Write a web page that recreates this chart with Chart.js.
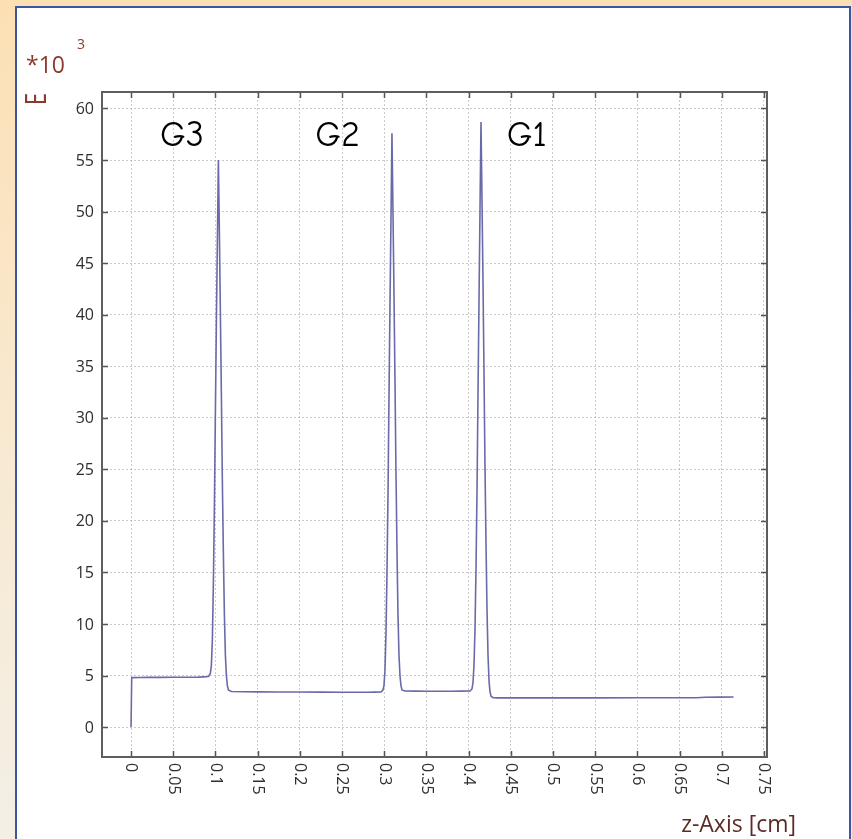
<!DOCTYPE html>
<html>
<head>
<meta charset="utf-8">
<script src="https://cdn.jsdelivr.net/npm/chart.js@4.4.1/dist/chart.umd.min.js"></script>
<style>
  html, body { margin: 0; padding: 0; }
  body {
    width: 852px; height: 839px; overflow: hidden; position: relative;
    background: linear-gradient(to bottom, #fce0b4 0%, #f8e9d0 50%, #f3efe6 100%);
  }
  #panel {
    position: absolute; left: 15px; top: 6px; width: 836px; height: 900px;
    box-sizing: border-box; border: 2px solid #3a56a0; background: #ffffff;
  }
  #c { position: absolute; left: 0; top: 0; }
</style>
</head>
<body>
<div id="panel"></div>
<canvas id="c" width="852" height="839"></canvas>
<script>
// ---- data (z in cm, E in units of 10^3) ----
const zPos = [
  0, 0.0008, 0.02, 0.05, 0.08, 0.0917,
  0.0940, 0.0952, 0.0964, 0.0976, 0.0988, 0.0999, 0.1011, 0.1023, 0.1035,
  0.1047, 0.1059, 0.1071, 0.1082, 0.1094, 0.1106, 0.1118, 0.1130, 0.1142, 0.1154, 0.1189,
  0.15, 0.20, 0.25, 0.28, 0.2962,
  0.2985, 0.2997, 0.3009, 0.3021, 0.3033, 0.3045, 0.3056, 0.3068, 0.3080, 0.3092,
  0.3104, 0.3116, 0.3128, 0.3139, 0.3151, 0.3163, 0.3175, 0.3187, 0.3199, 0.3211, 0.3246,
  0.35, 0.38, 0.4017,
  0.4040, 0.4052, 0.4064, 0.4076, 0.4088, 0.4100, 0.4111, 0.4123, 0.4135, 0.4147,
  0.4159, 0.4171, 0.4183, 0.4194, 0.4206, 0.4218, 0.4230, 0.4242, 0.4254, 0.4266, 0.4289, 0.4337,
  0.50, 0.60, 0.67, 0.68, 0.714
];
const eField = [
  0, 4.8, 4.82, 4.83, 4.85, 4.9,
  5.2, 6.0, 8.5, 14, 21.5, 30, 39, 47, 55.0,
  48, 40, 32, 24, 17, 11, 7, 5, 4, 3.6, 3.45,
  3.42, 3.40, 3.38, 3.38, 3.4,
  3.6, 4.0, 5.5, 9, 15, 22.5, 31.5, 40.5, 49, 57.6,
  50, 42, 33.5, 25, 17.5, 11, 7, 5, 4, 3.6, 3.5,
  3.48, 3.48, 3.5,
  3.7, 4.3, 6, 9.5, 15.5, 23, 32, 41, 50, 58.7,
  51, 43, 34, 25.5, 18, 11.5, 7, 4.5, 3.4, 3.0, 2.85, 2.83,
  2.83, 2.84, 2.84, 2.9, 2.92
];
const xTicks = [0, 0.05, 0.1, 0.15, 0.2, 0.25, 0.3, 0.35, 0.4, 0.45, 0.5, 0.55, 0.6, 0.65, 0.7, 0.75];
const xTickLabels = ['0', '0.05', '0.1', '0.15', '0.2', '0.25', '0.3', '0.35', '0.4', '0.45', '0.5', '0.55', '0.6', '0.65', '0.7', '0.75'];
const yTicks = [0, 5, 10, 15, 20, 25, 30, 35, 40, 45, 50, 55, 60];
const yTickLabels = ['0', '5', '10', '15', '20', '25', '30', '35', '40', '45', '50', '55', '60'];
const peakNames = ['G3', 'G2', 'G1'];
const peakNameZ = [0.0604, 0.2447, 0.469];
const peakNameE = 56.4;

const points = zPos.map((z, i) => ({ x: z, y: eField[i] }));

const FONT = "'Open Sans', 'DejaVu Sans', sans-serif";

const framePlugin = {
  id: 'frame',
  afterDraw(chart) {
    const ctx = chart.ctx;
    const a = chart.chartArea;
    const xs = chart.scales.x, ys = chart.scales.y;
    ctx.save();
    // inward tick marks on all four sides
    ctx.strokeStyle = '#555555';
    ctx.lineWidth = 1.5;
    ctx.beginPath();
    xTicks.forEach(v => {
      const px = Math.round(xs.getPixelForValue(v)) + 0.5;
      ctx.moveTo(px, a.bottom); ctx.lineTo(px, a.bottom - 6);
      ctx.moveTo(px, a.top); ctx.lineTo(px, a.top + 6);
    });
    yTicks.forEach(v => {
      const py = Math.round(ys.getPixelForValue(v)) + 0.5;
      ctx.moveTo(a.left, py); ctx.lineTo(a.left + 6, py);
      ctx.moveTo(a.right, py); ctx.lineTo(a.right - 6, py);
    });
    ctx.stroke();
    // box
    ctx.strokeStyle = '#5e5e5e';
    ctx.lineWidth = 2;
    ctx.strokeRect(a.left, a.top, a.right - a.left, a.bottom - a.top);

    // x tick labels rotated (reading top to bottom)
    ctx.fillStyle = '#2e2e2e';
    ctx.font = '16px ' + FONT;
    ctx.textAlign = 'left';
    ctx.textBaseline = 'middle';
    xTicks.forEach((v, i) => {
      const px = xs.getPixelForValue(v);
      ctx.save();
      ctx.translate(px, a.bottom + 6);
      ctx.rotate(Math.PI / 2);
      ctx.fillText(xTickLabels[i], 0, 0);
      ctx.restore();
    });
    // y tick labels
    ctx.textAlign = 'right';
    yTicks.forEach((v, i) => {
      ctx.fillText(yTickLabels[i], a.left - 8, ys.getPixelForValue(v) + 1);
    });

    // axis titles
    ctx.fillStyle = '#5b2c24';
    ctx.font = '23px ' + FONT;
    ctx.textAlign = 'right';
    ctx.textBaseline = 'alphabetic';
    ctx.fillText('z-Axis [cm]', 796, 832);

    ctx.fillStyle = '#8a3a2e';
    ctx.textAlign = 'left';
    ctx.font = '23px ' + FONT;
    ctx.fillText('*10', 26, 73);
    ctx.font = '14px ' + FONT;
    ctx.fillText('3', 77, 49);
    ctx.save();
    ctx.translate(37, 99);
    ctx.rotate(-Math.PI / 2);
    ctx.scale(0.75, 1);
    ctx.font = '29px ' + FONT;
    ctx.textAlign = 'center';
    ctx.textBaseline = 'middle';
    ctx.fillText('E', 0, 1);
    ctx.restore();

    // peak labels
    ctx.fillStyle = '#000000';
    ctx.font = "36px 'Comic Sans MS', 'Comic Neue', Lato, sans-serif";
    ctx.textAlign = 'center';
    ctx.textBaseline = 'alphabetic';
    peakNames.forEach((n, i) => {
      ctx.fillText(n, xs.getPixelForValue(peakNameZ[i]), ys.getPixelForValue(peakNameE));
    });
    ctx.restore();
  }
};

new Chart(document.getElementById('c'), {
  type: 'line',
  data: {
    datasets: [{
      data: points,
      borderColor: '#6a6aaa',
      borderWidth: 1.6,
      pointRadius: 0,
      tension: 0.0001,
      fill: false
    }]
  },
  options: {
    responsive: false,
    animation: false,
    devicePixelRatio: 1,
    layout: { padding: { left: 0, top: 92, right: 85, bottom: 82 } },
    plugins: { legend: { display: false }, tooltip: { enabled: false } },
    scales: {
      x: {
        type: 'linear',
        min: -0.0344,
        max: 0.7536,
        afterBuildTicks: s => { s.ticks = xTicks.map(v => ({ value: v })); },
        afterFit: s => { s.height = 0; },
        ticks: { display: false },
        grid: { color: 'rgba(150,150,150,0.5)', lineWidth: 1, drawTicks: false },
        border: { display: false, dash: [2, 2] }
      },
      y: {
        type: 'linear',
        min: -2.9,
        max: 61.6,
        afterBuildTicks: s => { s.ticks = yTicks.map(v => ({ value: v })); },
        afterFit: s => { s.width = 102; },
        ticks: { display: false },
        grid: { color: 'rgba(150,150,150,0.5)', lineWidth: 1, drawTicks: false },
        border: { display: false, dash: [2, 2] }
      }
    }
  },
  plugins: [framePlugin]
});
</script>
</body>
</html>
